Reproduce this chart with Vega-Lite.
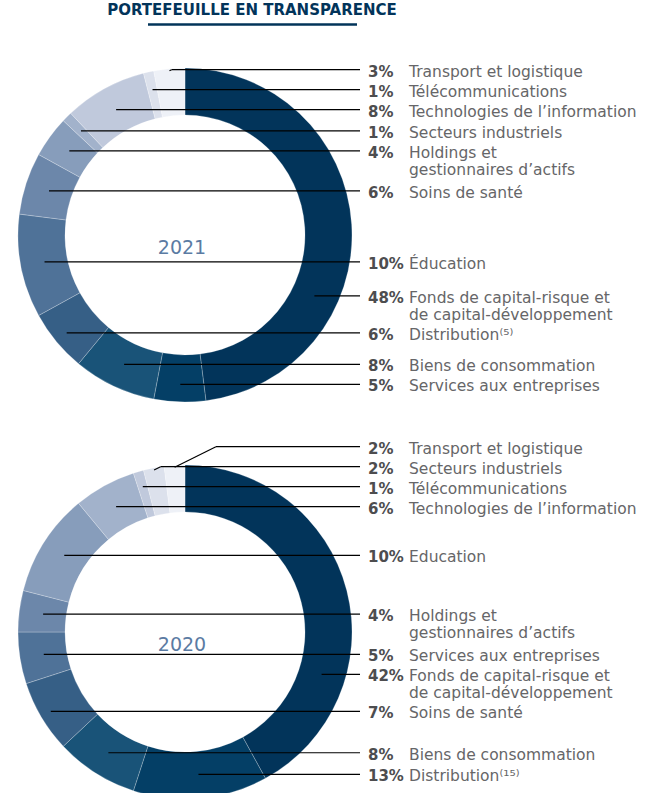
{
  "$schema": "https://vega.github.io/schema/vega-lite/v6.json",
  "width": 658,
  "height": 793,
  "autosize": "none",
  "padding": 0,
  "background": "#ffffff",
  "config": {"view": {"stroke": null}},
  "params": [
    {"name": "cx", "value": 185},
    {"name": "cy21", "value": 235},
    {"name": "cy20", "value": 632},
    {"name": "rIn", "value": 120},
    {"name": "rOut", "value": 167},
    {"name": "rMid", "value": 143},
    {"name": "lh", "value": 20},
    {"name": "lh2", "value": 17},
    {"name": "xFin", "value": 360}
  ],
  "layer": [
    {
      "data": {
        "values": [
          {"annee": 2021, "ordre": 0, "pct": 48, "libelle": "Fonds de capital-risque et\nde capital-développement"},
          {"annee": 2021, "ordre": 1, "pct": 5, "libelle": "Services aux entreprises"},
          {"annee": 2021, "ordre": 2, "pct": 8, "libelle": "Biens de consommation"},
          {"annee": 2021, "ordre": 3, "pct": 6, "libelle": "Distribution⁽⁵⁾"},
          {"annee": 2021, "ordre": 4, "pct": 10, "libelle": "Éducation"},
          {"annee": 2021, "ordre": 5, "pct": 6, "libelle": "Soins de santé"},
          {"annee": 2021, "ordre": 6, "pct": 4, "libelle": "Holdings et\ngestionnaires d’actifs"},
          {"annee": 2021, "ordre": 7, "pct": 1, "libelle": "Secteurs industriels"},
          {"annee": 2021, "ordre": 8, "pct": 8, "libelle": "Technologies de l’information"},
          {"annee": 2021, "ordre": 9, "pct": 1, "libelle": "Télécommunications"},
          {"annee": 2021, "ordre": 10, "pct": 3, "libelle": "Transport et logistique"},
          {"annee": 2020, "ordre": 0, "pct": 42, "libelle": "Fonds de capital-risque et\nde capital-développement"},
          {"annee": 2020, "ordre": 1, "pct": 13, "libelle": "Distribution⁽¹⁵⁾"},
          {"annee": 2020, "ordre": 2, "pct": 8, "libelle": "Biens de consommation"},
          {"annee": 2020, "ordre": 3, "pct": 7, "libelle": "Soins de santé"},
          {"annee": 2020, "ordre": 4, "pct": 5, "libelle": "Services aux entreprises"},
          {"annee": 2020, "ordre": 5, "pct": 4, "libelle": "Holdings et\ngestionnaires d’actifs"},
          {"annee": 2020, "ordre": 6, "pct": 10, "libelle": "Education"},
          {"annee": 2020, "ordre": 7, "pct": 6, "libelle": "Technologies de l’information"},
          {"annee": 2020, "ordre": 8, "pct": 1, "libelle": "Télécommunications"},
          {"annee": 2020, "ordre": 9, "pct": 2, "libelle": "Secteurs industriels"},
          {"annee": 2020, "ordre": 10, "pct": 2, "libelle": "Transport et logistique"}
        ]
      },
      "transform": [
        {"window": [{"op": "sum", "field": "pct", "as": "cumFin"}], "groupby": ["annee"], "sort": [{"field": "ordre", "order": "ascending"}], "frame": [null, 0]},
        {"calculate": "datum.cumFin - datum.pct", "as": "deb"},
        {"calculate": "cx", "as": "cxv"},
        {"calculate": "datum.annee == 2021 ? cy21 : cy20", "as": "cyc"},
        {"calculate": "datum.pct >= 30 ? 2 / 3 : 0.5", "as": "frac"},
        {"calculate": "(datum.deb + datum.pct * datum.frac) / 100 * 2 * PI", "as": "th"},
        {"calculate": "datum.cyc - rMid * cos(datum.th)", "as": "ay"},
        {"calculate": "datum.ay < datum.cyc ? -1 : 1", "as": "side"},
        {"calculate": "test(/\\n/, datum.libelle) ? 2 : 1", "as": "nl"},
        {"calculate": "lh + (datum.nl - 1) * lh2", "as": "g"},
        {"calculate": "datum.side * datum.ay", "as": "z"},
        {"window": [{"op": "sum", "field": "g", "as": "C"}], "groupby": ["annee", "side"], "sort": [{"field": "z", "order": "ascending"}], "frame": [null, 0]},
        {"calculate": "datum.side < 0 ? datum.C : datum.C - datum.g", "as": "G"},
        {"calculate": "datum.z - datum.G", "as": "w"},
        {"window": [{"op": "max", "field": "w", "as": "M"}], "groupby": ["annee", "side"], "sort": [{"field": "z", "order": "ascending"}], "frame": [null, 0]},
        {"calculate": "datum.side * (datum.M + datum.G)", "as": "ly"},
        {"calculate": "abs(cos(datum.th)) > 0.001 ? (datum.cyc - datum.ly) / cos(datum.th) : 9999", "as": "t0"},
        {"calculate": "datum.t0 >= rIn + 2 && datum.t0 <= rOut - 2 ? 0 : (abs(datum.ly - datum.cyc) < rMid ? 1 : 2)", "as": "mode"},
        {"calculate": "clamp(datum.t0, rIn + 2, rOut - 2)", "as": "tc"},
        {"calculate": "datum.mode == 0 ? cx + datum.t0 * sin(datum.th) : (datum.mode == 1 ? cx + (sin(datum.th) >= 0 ? 1 : -1) * sqrt(rMid * rMid - pow(datum.ly - datum.cyc, 2)) : cx + datum.tc * sin(datum.th))", "as": "axp"},
        {"calculate": "datum.mode == 2 ? datum.cyc - datum.tc * cos(datum.th) : datum.ly", "as": "ayp"},
        {"calculate": "min(datum.axp + 2 * abs(datum.ly - datum.ayp), xFin - 6)", "as": "bx"},
        {"calculate": "xFin", "as": "xf"},
        {"calculate": "datum.pct + '%'", "as": "pctTxt"}
      ],
      "layer": [
        {
          "mark": {"type": "arc", "innerRadius": 120, "outerRadius": 167, "stroke": "#ffffff", "strokeWidth": 0.4, "strokeOpacity": 0.6},
          "encoding": {
            "x": {"field": "cxv", "type": "quantitative", "scale": {"domain": [0, 658], "nice": false, "zero": false}, "axis": null, "stack": null},
            "y": {"field": "cyc", "type": "quantitative", "scale": {"domain": [0, 793], "nice": false, "zero": false, "reverse": true}, "axis": null, "stack": null},
            "theta": {"field": "deb", "type": "quantitative", "scale": {"domain": [0, 100], "range": [0, 6.283185307179586]}, "stack": null},
            "theta2": {"field": "cumFin"},
            "color": {
              "field": "ordre", "type": "ordinal", "legend": null,
              "scale": {
                "domain": [0, 1, 2, 3, 4, 5, 6, 7, 8, 9, 10],
                "range": ["#02345a", "#043f66", "#195378", "#365f86", "#4f7298", "#6c87aa", "#879dbb", "#a2b2cb", "#c0c9dc", "#dce1ec", "#eef1f7"]
              }
            }
          }
        },
        {
          "transform": [{"filter": "abs(datum.ly - datum.ayp) > 1"}],
          "mark": {"type": "rule", "color": "#000000", "strokeWidth": 1.2},
          "encoding": {
            "x": {"field": "axp", "type": "quantitative", "axis": null},
            "y": {"field": "ayp", "type": "quantitative", "axis": null},
            "x2": {"field": "bx"},
            "y2": {"field": "ly"}
          }
        },
        {
          "mark": {"type": "rule", "color": "#000000", "strokeWidth": 1.2},
          "encoding": {
            "x": {"field": "bx", "type": "quantitative", "axis": null},
            "x2": {"field": "xf"},
            "y": {"field": "ly", "type": "quantitative", "axis": null}
          }
        },
        {
          "mark": {"type": "text", "align": "left", "baseline": "alphabetic", "dy": 7, "font": "DejaVu Sans", "fontSize": 15, "fontWeight": "bold", "fill": "#4d4d4f"},
          "encoding": {
            "x": {"datum": 368, "type": "quantitative", "axis": null},
            "y": {"field": "ly", "type": "quantitative", "axis": null},
            "text": {"field": "pctTxt", "type": "nominal"}
          }
        },
        {
          "mark": {"type": "text", "align": "left", "baseline": "alphabetic", "dy": 7, "font": "DejaVu Sans", "fontSize": 15.5, "lineBreak": "\n", "lineHeight": 17, "fill": "#666668"},
          "encoding": {
            "x": {"datum": 409, "type": "quantitative", "axis": null},
            "y": {"field": "ly", "type": "quantitative", "axis": null},
            "text": {"field": "libelle", "type": "nominal"}
          }
        },
        {
          "transform": [{"filter": "datum.ordre == 0"}],
          "mark": {"type": "text", "align": "center", "baseline": "middle", "dx": -3, "dy": 12.5, "font": "DejaVu Sans", "fontSize": 19, "fill": "#5b7ba3"},
          "encoding": {
            "x": {"field": "cxv", "type": "quantitative", "axis": null},
            "y": {"field": "cyc", "type": "quantitative", "axis": null},
            "text": {"field": "annee", "type": "nominal"}
          }
        }
      ]
    },
    {
      "data": {"values": [{"titre": "PORTEFEUILLE EN TRANSPARENCE"}]},
      "layer": [
        {
          "mark": {"type": "text", "align": "center", "baseline": "alphabetic", "font": "DejaVu Sans", "fontSize": 15, "fontWeight": "bold", "fill": "#02345a"},
          "encoding": {
            "x": {"datum": 252, "type": "quantitative", "axis": null},
            "y": {"datum": 15, "type": "quantitative", "axis": null},
            "text": {"field": "titre", "type": "nominal"}
          }
        },
        {
          "mark": {"type": "rule", "color": "#02345a", "strokeWidth": 2.5},
          "encoding": {
            "x": {"datum": 148, "type": "quantitative", "axis": null},
            "x2": {"datum": 357},
            "y": {"datum": 24.5, "type": "quantitative", "axis": null}
          }
        }
      ]
    }
  ]
}
